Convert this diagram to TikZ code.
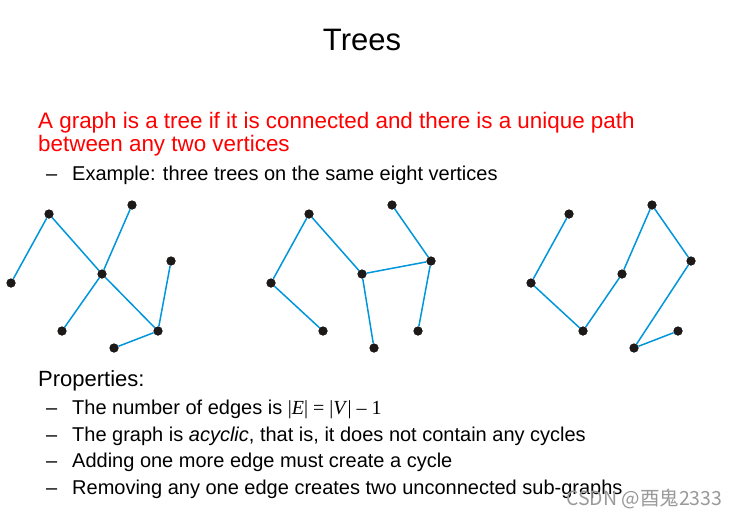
\documentclass[tikz,border=0pt]{standalone}
\usepackage{fontspec}
\setmainfont{Liberation Sans}
\newfontfamily\serifm{Liberation Serif}
\newfontfamily\cjkf{Noto Sans CJK SC}
\definecolor{edgeblue}{RGB}{0,150,220}
\definecolor{dotc}{RGB}{30,25,25}
\definecolor{redtxt}{RGB}{255,0,0}
\begin{document}
\begin{tikzpicture}[x=1pt,y=-1pt,
  vtx/.style={circle,fill=dotc,inner sep=0pt,minimum size=9pt},
  edg/.style={draw=edgeblue,line width=1.5pt},
  txt/.style={anchor=base west,inner sep=0pt},
  bul/.style={txt,font=\fontsize{20}{22}\selectfont}]
\useasboundingbox[fill=white] (0,0) rectangle (741,517);
% title
\node[anchor=base,inner sep=0pt,font=\fontsize{31}{34}\selectfont] (title) at (362,50) {Trees};
% red definition
\node[txt,text=redtxt,font=\fontsize{22.4}{23}\selectfont] (def1) at (38,128) {A graph is a tree if it is connected and there is a unique path};
\node[txt,text=redtxt,font=\fontsize{22.4}{23}\selectfont] (def2) at (38,151) {between any two vertices};
\node[bul] (exd) at (46,180) {--};
\node[bul] (ex) at (72,180) {Example: three trees on the same eight vertices};
% tree 1
\node[vtx] (a1) at (49,214) {};
\node[vtx] (b1) at (132,205) {};
\node[vtx] (c1) at (11,283) {};
\node[vtx] (d1) at (102,274) {};
\node[vtx] (e1) at (171,261) {};
\node[vtx] (f1) at (62,331) {};
\node[vtx] (g1) at (158,331) {};
\node[vtx] (h1) at (114,348) {};
% tree 2
\node[vtx] (a2) at (309,214) {};
\node[vtx] (b2) at (392,205) {};
\node[vtx] (c2) at (271,283) {};
\node[vtx] (d2) at (362,274) {};
\node[vtx] (e2) at (431,261) {};
\node[vtx] (f2) at (323,331) {};
\node[vtx] (g2) at (418,331) {};
\node[vtx] (h2) at (374,348) {};
% tree 3
\node[vtx] (a3) at (569,214) {};
\node[vtx] (b3) at (652,205) {};
\node[vtx] (c3) at (531,283) {};
\node[vtx] (d3) at (622,274) {};
\node[vtx] (e3) at (691,261) {};
\node[vtx] (f3) at (583,331) {};
\node[vtx] (g3) at (678,331) {};
\node[vtx] (h3) at (634,348) {};
% edges
\path[edg] (c1) -- (a1) -- (d1) -- (b1);
\path[edg] (d1) -- (f1);
\path[edg] (d1) -- (g1) -- (e1);
\path[edg] (g1) -- (h1);
\path[edg] (f2) -- (c2) -- (a2) -- (d2) -- (h2);
\path[edg] (d2) -- (e2) -- (b2);
\path[edg] (e2) -- (g2);
\path[edg] (a3) -- (c3) -- (f3) -- (d3) -- (b3) -- (e3) -- (h3) -- (g3);
% redraw dots on top
\foreach \t in {1,2,3}{\foreach \v in {a,b,c,d,e,f,g,h}{\fill[dotc] (\v\t) circle (4.5pt);}}
% properties
\node[txt,font=\fontsize{22}{24}\selectfont] (prop) at (38,386) {Properties:};
\node[bul] (p1d) at (46,414) {--};
\node[bul] (p1) at (72,414) {The number of edges is {\serifm\fontsize{20}{22}\selectfont|\textit{E}| = |\textit{V}| – 1}};
\node[bul] (p2d) at (46,441) {--};
\node[bul] (p2) at (72,441) {The graph is \textit{acyclic}, that is, it does not contain any cycles};
\node[bul] (p3d) at (46,467) {--};
\node[bul] (p3) at (72,467) {Adding one more edge must create a cycle};
\node[bul] (p4d) at (46,494) {--};
\node[bul] (p4) at (72,494) {Removing any one edge creates two unconnected sub-graphs};
% watermark
\node[txt,text=black!40,font=\cjkf\fontsize{19.5}{20}\selectfont] (wm) at (566,505) {CSDN @酉鬼2333};
\end{tikzpicture}
\end{document}
